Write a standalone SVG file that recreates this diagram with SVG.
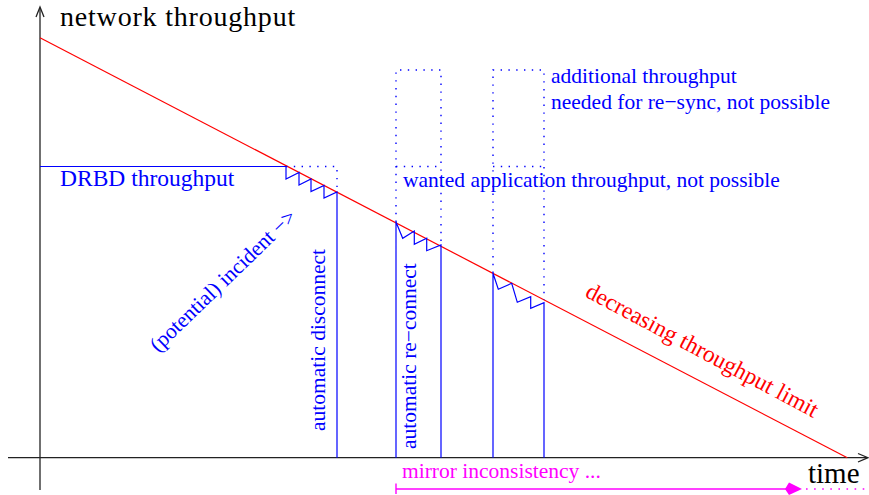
<svg xmlns="http://www.w3.org/2000/svg" width="869" height="495" viewBox="0 0 869 495">
<style>
  .axis{stroke:#222;stroke-width:1.3;fill:none}
  .blue{stroke:#0000ff;stroke-width:1.2;fill:none;stroke-linejoin:miter}
  .dot{stroke:#0000ff;stroke-width:1.4;fill:none;stroke-dasharray:1.4 6.4}
  .red{stroke:#ff0000;stroke-width:1.2;fill:none}
  .mag{stroke:#ff00ff;stroke-width:1.4;fill:none}
  .t{font-family:"Liberation Serif","Times New Roman",serif}
  .tb{fill:#0000ff;font-size:21.5px}
  .tk{fill:#000;font-size:29px}
</style>
<rect width="869" height="495" fill="#fff"/>
<g id="connectors">
  <g id="axes">
    <line class="axis" x1="40" y1="490" x2="40" y2="8"/>
    <polyline class="axis" points="36,17 40,7 44,17"/>
    <line class="axis" x1="8" y1="457.7" x2="867" y2="457.7"/>
    <polyline class="axis" points="858,453.5 868,457.7 858,462"/>
  </g>
  <line id="limit-line" class="red" x1="40" y1="37.7" x2="847.3" y2="457.7"/>
  <g id="dotted-wanted">
    <polyline class="dot" points="286,166.5 337,166.5 337,192"/>
    <polyline class="dot" points="396,222 396,70 441,70 441,245"/>
    <line class="dot" x1="396" y1="166.5" x2="441" y2="166.5"/>
    <polyline class="dot" points="493,273 493,70 544,70 544,300"/>
    <line class="dot" x1="493" y1="166.5" x2="544" y2="166.5"/>
  </g>
  <g id="drbd-throughput">
    <polyline class="blue" points="40,166.5 286,166.5 286,179 299,172.5 299,185 311,179 311,191.5 324,185.5 324,198 337,192 337,457.7"/>
    <polyline class="blue" points="396,457.7 396,222 402.7,238.3 414.3,231 414.3,244.3 426.7,238.3 426.7,250.7 441,245 441,457.7"/>
    <polyline class="blue" points="493,457.7 493,273.3 498.3,289.3 511.7,283.3 517.3,302.3 530.7,296.7 530.7,308.3 544,302.7 544,457.7"/>
  </g>
  <g id="mirror-arrow">
    <line class="mag" x1="396" y1="483.5" x2="396" y2="494"/>
    <line class="mag" x1="396" y1="489" x2="786" y2="489"/>
    <polygon points="785,489 789,482.5 802,489 789,495" fill="#ff00ff"/>
    <line class="mag" x1="806" y1="489" x2="869" y2="489" stroke-dasharray="1.6 6.5"/>
  </g>
</g>
<g id="label-network-throughput"><text class="t" x="60" y="26" fill="#000" style="font-size:28px;letter-spacing:0.8px">network throughput</text></g>
<g id="label-time"><text class="t tk" x="808" y="483">time</text></g>
<g id="label-drbd"><text class="t tb" x="60" y="186" style="font-size:23.5px">DRBD throughput</text></g>
<g id="label-wanted"><text class="t tb" x="403" y="187">wanted application throughput, not possible</text></g>
<g id="label-additional">
  <text class="t tb" x="551" y="82.5">additional throughput</text>
  <text class="t tb" x="551" y="108.5">needed for re−sync, not possible</text>
</g>
<g id="label-mirror"><text class="t" x="402" y="478" fill="#ff00ff" font-size="21.5">mirror inconsistency ...</text></g>
<g id="label-disconnect"><text class="t tb" transform="translate(325,431) rotate(-90)">automatic disconnect</text></g>
<g id="label-reconnect"><text class="t tb" transform="translate(416,449) rotate(-90)">automatic re−connect</text></g>
<g id="label-incident"><text class="t tb" transform="translate(158,353) rotate(-44)">(potential) incident −&gt;</text></g>
<g id="label-limit"><text class="t" fill="#ff0000" font-size="23.5" transform="translate(584,296) rotate(28)">decreasing throughput limit</text></g>
</svg>
